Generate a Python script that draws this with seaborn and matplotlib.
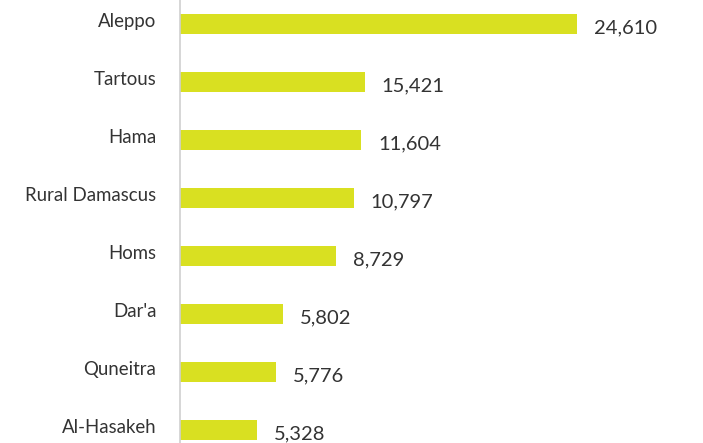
import matplotlib
matplotlib.use("Agg")
import matplotlib.pyplot as plt
import matplotlib.transforms as mtransforms
import seaborn as sns
import pandas as pd

governorates = ["Aleppo", "Tartous", "Hama", "Rural Damascus", "Homs", "Dar'a", "Quneitra", "Al-Hasakeh"]
# bar lengths as drawn (relative, Aleppo = 100)
bar_lengths = [100, 46.5, 45.7, 43.7, 39.4, 26.0, 24.2, 19.4]
# numbers printed next to the bars
value_labels = ["24,610", "15,421", "11,604", "10,797", "8,729", "5,802", "5,776", "5,328"]

df = pd.DataFrame({"gov": governorates, "len": bar_lengths, "lab": value_labels})

sns.set_theme(style="white")
plt.rcParams["font.family"] = ["Lato", "DejaVu Sans"]

fig = plt.figure(figsize=(7.03, 4.43), dpi=100)
ax = fig.add_axes([180 / 703, 0, 1 - 180 / 703, 1])

sns.barplot(data=df, y="gov", x="len", orient="h", color="#d9e021",
            saturation=1, width=0.36, linewidth=0, ax=ax)

ax.set_xlim(0, 131.7)
ax.set_ylim(7.224, -0.414)

for i, (l, t) in enumerate(zip(bar_lengths, value_labels)):
    ax.annotate(t, xy=(l, i), xytext=(12, -3), textcoords="offset points",
                ha="left", va="center", fontsize=14.5, color="#333333")

ax.set_xlabel("")
ax.set_ylabel("")
ax.set_xticks([])
ax.tick_params(axis="y", length=0, pad=17, labelsize=13.4, labelcolor="#333333")
shift = mtransforms.ScaledTranslation(0, 3 / 72, fig.dpi_scale_trans)
for lbl in ax.get_yticklabels():
    lbl.set_transform(lbl.get_transform() + shift)
for s in ["top", "right", "bottom"]:
    ax.spines[s].set_visible(False)
ax.spines["left"].set_color("#d0d0d0")
ax.spines["left"].set_linewidth(1.2)

fig.savefig("out.png", dpi=100)
